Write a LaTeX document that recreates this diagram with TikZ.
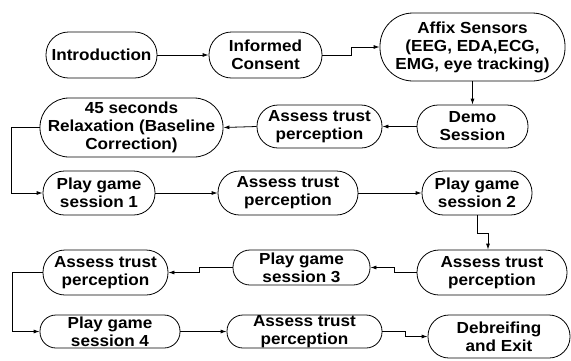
\documentclass[tikz,border=0pt]{standalone}
\usepackage{fontspec}
\setmainfont{Liberation Sans}[FakeStretch=1.07]
\usetikzlibrary{arrows.meta}
\begin{document}
\begin{tikzpicture}[x=1pt,y=-1pt,
  box/.style={draw, line width=0.8pt, align=center, inner sep=0pt,
    font=\fontsize{16}{18}\selectfont\bfseries},
  arr/.style={draw, line width=0.8pt, -{Latex[length=6pt,width=4pt]}}]
\useasboundingbox (0,0) rectangle (571,360);
\node[box, minimum width=111pt, minimum height=46pt, rounded corners=22.5pt] (intro) at (101.5,55) {Introduction};
\node[box, minimum width=113pt, minimum height=46pt, rounded corners=22.5pt] (consent) at (265.5,55) {Informed\\Consent};
\node[box, minimum width=185pt, minimum height=68pt, rounded corners=33pt] (affix) at (472.5,47) {Affix Sensors\\(EEG, EDA,ECG,\\EMG, eye tracking)};
\node[box, minimum width=111pt, minimum height=43pt, rounded corners=21pt] (demo) at (472.5,126.5) {Demo\\Session};
\node[box, minimum width=125pt, minimum height=43pt, rounded corners=21pt] (assessA) at (319.5,126.5) {Assess trust\\perception};
\node[box, minimum width=183pt, minimum height=59pt, rounded corners=29pt] (relax) at (131.5,127.5) {45 seconds\\Relaxation (Baseline\\Correction)};
\node[box, minimum width=112pt, minimum height=44pt, rounded corners=21.5pt] (playA) at (99,193) {Play game\\session 1};
\node[box, minimum width=140pt, minimum height=44pt, rounded corners=21.5pt] (assessB) at (288,193) {Assess trust\\perception};
\node[box, minimum width=110pt, minimum height=44pt, rounded corners=21.5pt] (playB) at (477,193) {Play game\\session 2};
\node[box, minimum width=150pt, minimum height=45pt, rounded corners=22pt] (assessC) at (492,272.5) {Assess trust\\perception};
\node[box, minimum width=137pt, minimum height=35pt, rounded corners=17pt] (playC) at (301.5,267.5) {Play game\\session 3};
\node[box, minimum width=125pt, minimum height=45pt, rounded corners=22pt] (assessD) at (105.5,272.5) {Assess trust\\perception};
\node[box, minimum width=140pt, minimum height=33pt, rounded corners=16pt] (playD) at (110,331.5) {Play game\\session 4};
\node[box, minimum width=155pt, minimum height=33pt, rounded corners=16pt] (assessE) at (304.5,331.5) {Assess trust\\perception};
\node[box, minimum width=142pt, minimum height=43pt, rounded corners=21pt] (debrief) at (499,336.5) {Debreifing\\and Exit};
\draw[arr] (intro.east) -- (consent.west);
\draw[arr] (consent.east) -- ++(29,0) |- (affix.west);
\draw[arr] (affix.south) -- (demo.north);
\draw[arr] (demo.west) -- (assessA.east);
\draw[arr] (assessA.west) -- (relax.east);
\draw[arr] (relax.west) -- ++(-28,0) |- (playA.west);
\draw[arr] (playA.east) -- (assessB.west);
\draw[arr] (assessB.east) -- (playB.west);
\draw[arr] (playB.south) -- ++(0,18) -| ([xshift=-4pt]assessC.north);
\draw[arr] (assessC.west) -- ++(-22,0) |- (playC.east);
\draw[arr] (playC.west) -- ++(-33,0) |- (assessD.east);
\draw[arr] (assessD.west) -- ++(-30,0) |- (playD.west);
\draw[arr] (playD.east) -- (assessE.west);
\draw[arr] (assessE.east) -- ++(23,0) |- (debrief.west);
\end{tikzpicture}
\end{document}
